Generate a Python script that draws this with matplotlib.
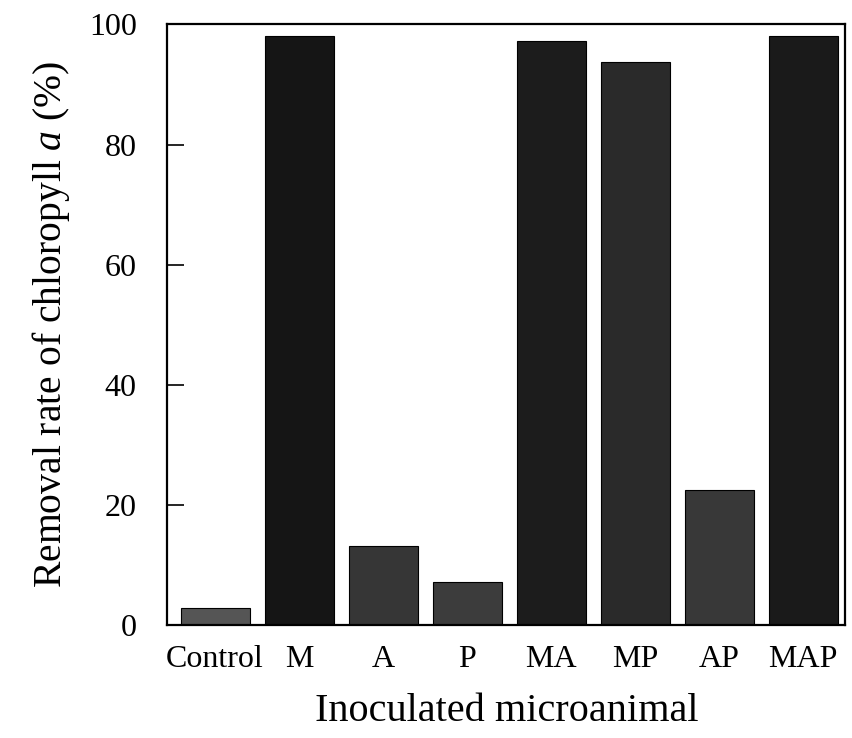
import matplotlib
matplotlib.use('Agg')
from matplotlib import pyplot as plt

treatments = ['Control', 'M', 'A', 'P', 'MA', 'MP', 'AP', 'MAP']
removal = [2.8, 98.0, 13.2, 7.2, 97.2, 93.7, 22.5, 98.0]
colors = ['#555555', '#151515', '#363636', '#3c3c3c', '#1c1c1c', '#2a2a2a', '#383838', '#1a1a1a']

plt.rcParams['font.family'] = 'Liberation Serif'
plt.rcParams['mathtext.fontset'] = 'custom'
plt.rcParams['mathtext.it'] = 'Liberation Serif:italic'
plt.rcParams['mathtext.rm'] = 'Liberation Serif'

fig = plt.figure(figsize=(8.53, 7.38), dpi=100)
ax = fig.add_axes([0.196, 0.153, 0.795, 0.814])

x = range(len(treatments))
ax.bar(x, removal, width=0.82, color=colors, edgecolor='black', linewidth=0.8)

ax.set_xlim(-0.57, 7.5)
ax.set_ylim(0, 100)
ax.set_yticks([0, 20, 40, 60, 80, 100])
ax.set_xticks(list(x))
ax.set_xticklabels(treatments)
ax.tick_params(axis='y', direction='in', length=12, width=1.2, labelsize=23, pad=22)
ax.tick_params(axis='x', length=0, labelsize=23, pad=14)
for s in ax.spines.values():
    s.set_linewidth(1.6)

ax.set_ylabel(r'Removal rate of chloropyll $a$ (%)', fontsize=28.5, labelpad=12)
ax.set_xlabel('Inoculated microanimal', fontsize=29, labelpad=14)

plt.savefig('out.png')
plt.close()
